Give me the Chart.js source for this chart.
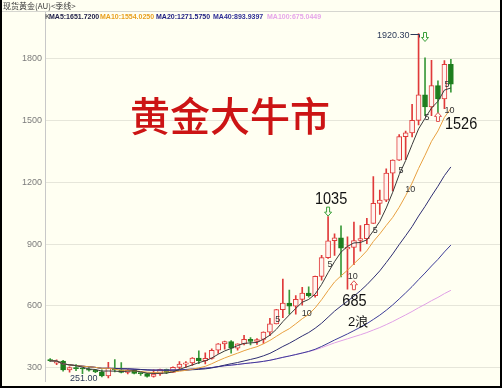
<!DOCTYPE html>
<html><head><meta charset="utf-8">
<script src="https://cdn.jsdelivr.net/npm/chart.js@4/dist/chart.umd.min.js"></script>
<style>
html,body{margin:0;padding:0;background:#fff;width:503px;height:390px;overflow:hidden;}
#bg{position:absolute;left:0;top:0;width:500px;height:386px;background:#fffff2;}
canvas{position:absolute;left:0;top:0;}
.b{position:absolute;background:#000;}
.ma{position:absolute;top:12px;font:bold 7px "Liberation Sans",Arial,sans-serif;line-height:9px;white-space:nowrap;}
#t1{position:absolute;left:3px;top:0;font:8px "Noto Sans CJK SC",sans-serif;line-height:11px;color:#3a3a3a;white-space:nowrap;}
#sep{position:absolute;left:0;top:11px;width:500px;height:1px;background:#d6d6d0;}
#big{position:absolute;left:130px;top:94px;font:500 40px "Noto Sans CJK SC",sans-serif;line-height:40px;color:#cc1414;white-space:nowrap;}
</style></head>
<body>
<div id="bg"></div>
<canvas id="c" width="503" height="390"></canvas>
<div id="t1">现货黄金(AU)&lt;季线&gt;</div>
<div id="sep"></div>
<div id="hdr"></div>
<div id="big">黄金大牛市</div>
<div class="b" style="left:0;top:0;width:2px;height:388px"></div>
<div class="b" style="left:500px;top:0;width:2px;height:388px"></div>
<div class="b" style="left:0;top:386px;width:502px;height:2px"></div>
<script>
const quarters = ['1997Q2','1997Q3','1997Q4','1998Q1','1998Q2','1998Q3','1998Q4','1999Q1','1999Q2','1999Q3','1999Q4',
'2000Q1','2000Q2','2000Q3','2000Q4','2001Q1','2001Q2','2001Q3','2001Q4','2002Q1','2002Q2','2002Q3','2002Q4',
'2003Q1','2003Q2','2003Q3','2003Q4','2004Q1','2004Q2','2004Q3','2004Q4','2005Q1','2005Q2','2005Q3','2005Q4',
'2006Q1','2006Q2','2006Q3','2006Q4','2007Q1','2007Q2','2007Q3','2007Q4','2008Q1','2008Q2','2008Q3','2008Q4',
'2009Q1','2009Q2','2009Q3','2009Q4','2010Q1','2010Q2','2010Q3','2010Q4','2011Q1','2011Q2','2011Q3','2011Q4',
'2012Q1','2012Q2','2012Q3','2012Q4'];
const opens = [340,322,332,290,301,296,294,288,280,261,299,290,278,289,273,272,258,270,293,278,302,318,324,347,334,346,385,416,427,395,416,438,428,437,473,513,582,614,599,632,662,650,743,834,916,930,876,884,917,926,1000,1097,1113,1244,1307,1421,1439,1500,1624,1565,1668,1604,1772];
const highs = [345,338,336,305,315,300,302,292,290,326,340,325,293,293,276,273,291,294,294,305,330,330,350,382,372,392,417,430,432,416,457,447,441,474,540,584,730,677,650,690,692,745,845,1033,950,988,935,1006,990,1025,1227,1162,1265,1308,1431,1448,1577,1920.3,1803,1791,1692,1790,1796];
const lows = [330,315,283,279,286,271,284,276,256,251,280,275,270,270,263,255,255,263,271,278,295,302,311,320,319,342,370,390,371,385,411,411,413,418,456,513,543,560,560,604,642,642,725,830,845,740,681,800,865,902,1000,1044,1105,1157,1305,1309,1420,1478,1523,1523,1526,1556,1636];
const closes = [334,332,290,301,296,294,288,280,261,299,290,278,289,273,272,258,270,293,278,302,318,324,347,334,346,385,416,427,395,416,438,428,437,473,513,582,614,599,632,662,650,743,834,916,930,880,884,917,926,995,1097,1113,1244,1307,1421,1439,1500,1624,1565,1668,1604,1772,1675];
const ma5 = [334,333,318.7,314.3,310.6,302.6,293.8,291.8,283.8,284.4,283.6,281.6,283.4,285.8,280.4,274,272.4,273.2,274.2,280.2,292.2,303,313.8,325,333.8,347.2,365.6,381.6,393.8,407.8,418.4,420.8,422.8,438.4,457.8,486.6,523.8,556.2,588,617.8,631.4,657.2,704.2,761,814.6,860.6,888.8,905.4,907.4,920.4,963.8,1009.6,1075,1151.2,1236.4,1304.8,1382.2,1458.2,1509.8,1559.2,1592.2,1646.6,1656.8];
const ma10 = [334,333,318.7,314.3,310.6,307.8,305,301.9,297.3,297.5,293.1,287.7,287.6,284.8,282.4,278.8,277,278.3,280,280.3,283.1,287.7,293.5,299.6,307,319.7,334.3,347.7,359.4,370.8,382.8,393.2,402.2,416.1,432.8,452.5,472.3,489.5,513.2,537.8,559,590.5,630.2,674.5,716.2,746,773,804.8,834.2,867.5,912.2,949.2,990.2,1029.3,1078.4,1134.3,1195.9,1266.6,1330.5,1397.8,1448.5,1514.4,1557.5];
const ma20 = [334,333,318.7,314.3,310.6,307.8,305,301.9,297.3,297.5,296.8,295.3,294.8,293.2,291.8,289.7,288.5,288.8,288.2,288.9,288.1,287.7,290.6,292.2,294.7,299.3,305.7,313,319.7,325.6,333,340.5,347.9,357.9,369.9,386.1,403.3,418.6,436.3,454.3,470.9,491.9,516.2,545.3,574.5,599.3,622.7,647.2,673.7,702.7,735.6,769.9,810.2,851.9,897.3,940.2,984.5,1035.7,1082.4,1132.7,1180.4,1231.8,1273.9];
const ma40 = [334,333,318.7,314.3,310.6,307.8,305,301.9,297.3,297.5,296.8,295.3,294.8,293.2,291.8,289.7,288.5,288.8,288.2,288.9,290.3,291.8,294.2,295.9,297.9,301.2,305.5,309.8,312.8,316.2,320.1,323.5,326.9,331.2,336.4,343.3,350.6,357.1,364.2,371.6,379.5,389.8,403.4,418.8,434.6,449.3,464.2,480.1,496.7,514.1,534.3,555.2,579,604.9,633.6,663.1,693.9,727.2,759.3,793.5,825.6,861.8,895];
const ma100 = [334,333,318.7,314.3,310.6,307.8,305,301.9,297.3,297.5,296.8,295.3,294.8,293.2,291.8,289.7,288.5,288.8,288.2,288.9,290.3,291.8,294.2,295.9,297.9,301.2,305.5,309.8,312.8,316.2,320.1,323.5,326.9,331.2,336.4,343.3,350.6,357.1,364.2,371.6,378.4,387.1,397.5,409.3,420.8,430.8,440.4,450.4,460.1,470.8,483.1,495.2,509.3,524.1,540.4,556.4,573,591.1,607.6,625.3,641.3,659.6,675.7];
const yTicks = [300,600,900,1200,1500,1800];
const maNames = ['MA5','MA10','MA20','MA40','MA100'];
const maLast = ['1651.7200','1554.0250','1271.5750','893.9397','675.0449'];
// annotation anchors (index, value)
const label5 = [[35.2,533],[43.3,801],[50.3,966],[54.3,1255],[58.3,1514],[61.4,1672]];
const label10 = [[39.7,565],[46.8,744],[55.7,1164],[61.8,1547]];

const UP = '#e03a3a', UPFILL = '#fff5f0', DN = '#1e7e1e', DNW = '#3a9a3a';
const maColors = ['#3a3a3a','#e8a040','#2e2e72','#3c3c98','#e0a0e6'];
const maHdrColors = ['#22224a','#e8a020','#1c1c80','#2e2e96','#e6a6ea'];
const maX = [49,100,156,213,267];

// header
const hdr = document.getElementById('hdr');
let h = '<div class="ma" style="left:45px;color:#666">K</div>';
maNames.forEach((n,k)=>{ h += '<div class="ma" style="left:'+maX[k]+'px;color:'+maHdrColors[k]+'">'+n+':'+maLast[k]+'</div>'; });
hdr.innerHTML = h;

const isUp = i => closes[i] >= opens[i];
const pts = arr => arr.map((v,i)=>({x:i,y:v}));

function arrow(ctx, cx, ty, dir, color){
  const s = dir;
  ctx.save();
  ctx.beginPath();
  ctx.moveTo(cx, ty);
  ctx.lineTo(cx-3.5, ty - s*4);
  ctx.lineTo(cx-1.5, ty - s*4);
  ctx.lineTo(cx-1.5, ty - s*9);
  ctx.lineTo(cx+1.5, ty - s*9);
  ctx.lineTo(cx+1.5, ty - s*4);
  ctx.lineTo(cx+3.5, ty - s*4);
  ctx.closePath();
  ctx.fillStyle = '#fffff2'; ctx.fill();
  ctx.strokeStyle = color; ctx.lineWidth = 1; ctx.stroke();
  ctx.restore();
}
function bigText(ctx, s, x, y, align){
  ctx.save();
  ctx.font = '16.5px "Liberation Sans", Arial, sans-serif';
  ctx.fillStyle = '#111'; ctx.textAlign = align; ctx.textBaseline = 'alphabetic';
  ctx.translate(x, y); ctx.scale(0.88, 1);
  ctx.fillText(s, 0, 0);
  ctx.restore();
}

const notes = {
  id:'notes',
  afterDatasetsDraw(chart){
    const {ctx, scales:{x, y}} = chart;
    const X = v => x.getPixelForValue(v), Y = v => y.getPixelForValue(v);
    ctx.save();
    // MA labels
    ctx.font = '9px "Liberation Sans", Arial, sans-serif';
    ctx.fillStyle = '#333'; ctx.textAlign = 'center'; ctx.textBaseline = 'middle';
    label5.forEach(p => ctx.fillText('5', X(p[0]), Y(p[1])));
    label10.forEach(p => ctx.fillText('10', X(p[0]), Y(p[1])));
    // 1920.30
    const iTop = 57, yt = Math.round(Y(highs[iTop])) + 0.5, xt = Math.round(X(iTop)) + 0.5;
    ctx.fillStyle = '#2c3a58'; ctx.textAlign = 'right';
    ctx.fillText(highs[iTop].toFixed(2), xt - 10, yt + 1);
    ctx.strokeStyle = '#2c3a58'; ctx.lineWidth = 1;
    ctx.beginPath(); ctx.moveTo(xt-9, yt); ctx.lineTo(xt, yt); ctx.lineTo(xt, yt+3); ctx.stroke();
    arrow(ctx, X(iTop+1), yt + 7, 1, '#3aa03a');
    // 251.00
    const iLow = 9, yl = Math.round(Y(lows[iLow])) + 0.5, xl = Math.round(X(iLow)) + 0.5;
    ctx.fillStyle = '#2c3a58'; ctx.textAlign = 'right';
    ctx.fillText(lows[iLow].toFixed(2), xl - 11, yl);
    // 1035
    const i1 = 43, y1 = Y(highs[i1]);
    arrow(ctx, X(i1), y1 - 0.5, 1, '#3aa03a');
    bigText(ctx, '1035', X(i1)+3, y1 - 12.5, 'center');
    // 685
    const i2 = 46, y2 = Y(lows[i2]);
    arrow(ctx, X(i2+1), y2 - 8.5, -1, '#e05050');
    bigText(ctx, '685', X(i2+1)+0.5, y2 + 16.5, 'center');
    ctx.font = '13px "Liberation Sans", "Noto Sans CJK SC", sans-serif';
    ctx.fillStyle = '#111'; ctx.textAlign = 'left'; ctx.textBaseline = 'alphabetic';
    ctx.fillText('2浪', X(i2+1)-6, y2 + 36.5);
    // 1526
    const i3 = 60, y3 = Y(lows[i3]) - 2.5;
    arrow(ctx, X(i3), y3, -1, '#e05050');
    bigText(ctx, '1526', X(i3)+7, y3 + 17, 'left');
    ctx.restore();
  }
};

new Chart(document.getElementById('c'), {
  type: 'bar',
  data: {
    labels: quarters,
    datasets: [
      ...[ma5, ma10, ma20, ma40, ma100].map((arr,k)=>({
        type:'line', label:maNames[k], data:pts(arr), borderColor:maColors[k], borderWidth:1,
        pointRadius:0, tension:0, fill:false, order:0
      })),
      { type:'bar', label:'body', data: opens.map((o,i)=>({x:i, y:[o, closes[i]]})),
        backgroundColor: c => isUp(c.dataIndex) ? UPFILL : DN,
        borderColor: c => isUp(c.dataIndex) ? UP : DN,
        borderWidth:1, borderSkipped:false, barThickness:5, minBarLength:1, grouped:false, order:1 },
      { type:'bar', label:'wick', data: lows.map((l,i)=>({x:i, y:[l, highs[i]]})),
        backgroundColor: c => isUp(c.dataIndex) ? UP : DNW,
        borderWidth:0, barThickness:1, grouped:false, order:2 }
    ]
  },
  options: {
    responsive:false, animation:false, events:[],
    layout:{padding:{left:0, right:3, top:11, bottom:4}},
    plugins:{legend:{display:false}, tooltip:{enabled:false}},
    scales:{
      x:{type:'linear', min:-0.8, max:69.6, display:false, offset:false},
      y:{type:'linear', min:233, max:2030,
         afterBuildTicks: s => { s.ticks = yTicks.map(v=>({value:v})); },
         afterFit: s => { s.width = 45; },
         ticks:{color:'#7c7c7c', font:{family:'"Liberation Sans", Arial, sans-serif', size:9}, padding:3,
                callback: v => String(v)},
         grid:{color:'#e6e6da', drawTicks:false},
         border:{color:'#c8c8c8'}}
    }
  },
  plugins:[notes]
});
</script>
</body></html>
